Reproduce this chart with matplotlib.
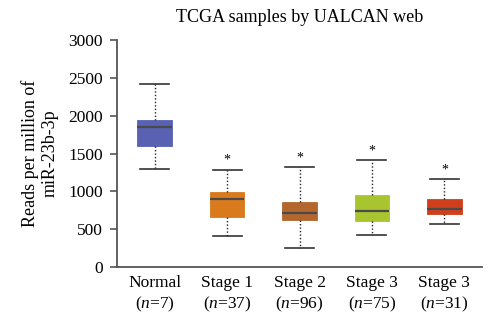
import matplotlib.pyplot as plt

plt.rcParams['font.family'] = ['Liberation Serif', 'DejaVu Serif']
plt.rcParams['mathtext.fontset'] = 'custom'
plt.rcParams['mathtext.it'] = 'Liberation Serif:italic'
plt.rcParams['mathtext.rm'] = 'Liberation Serif'

# group labels and box statistics (reads per million)
groups = ['Normal', 'Stage 1', 'Stage 2', 'Stage 3', 'Stage 3']
counts = [7, 37, 96, 75, 31]
whislo = [1295, 410, 251, 427, 568]
q1 = [1598, 665, 617, 615, 700]
med = [1850, 902, 717, 740, 770]
q3 = [1942, 995, 859, 955, 902]
whishi = [2418, 1285, 1317, 1413, 1158]
starred = [False, True, True, True, True]
colors = ['#5961b3', '#d97b1c', '#b3672f', '#a8c530', '#d03f1b']

stats = []
for i in range(len(groups)):
    stats.append(dict(whislo=whislo[i], q1=q1[i], med=med[i], q3=q3[i],
                      whishi=whishi[i], fliers=[]))

fig = plt.figure(figsize=(5, 3.31), dpi=100)
ax = fig.add_axes([0.234, 0.193, 0.73, 0.686])

bp = ax.bxp(stats, positions=range(len(groups)), widths=0.48, patch_artist=True,
            showfliers=False,
            boxprops=dict(linewidth=0.6),
            medianprops=dict(color='#4a4a4a', linewidth=1.6),
            whiskerprops=dict(color='#222222', linestyle=(0, (1, 1.5)), linewidth=1.0),
            capprops=dict(color='#333333', linewidth=1.2))
for patch, c in zip(bp['boxes'], colors):
    patch.set_facecolor(c)
    patch.set_edgecolor(c)
for cap in bp['caps']:
    x0, x1 = cap.get_xdata()
    mid = (x0 + x1) / 2
    cap.set_xdata([mid - 0.2, mid + 0.2])

for i, s in enumerate(starred):
    if s:
        ax.text(i, whishi[i] + 40, '*', ha='center', va='bottom', fontsize=10)

ax.set_xlim(-0.52, 4.52)
ax.set_ylim(0, 3000)
ax.set_yticks(range(0, 3001, 500))
ax.set_xticks(range(len(groups)))
ax.set_xticklabels([f'{g}\n($n$={n})' for g, n in zip(groups, counts)],
                   linespacing=1.25)
ax.tick_params(axis='x', length=0, pad=6, labelsize=12.5)
ax.tick_params(axis='y', length=5, width=1.2, color='#555555', labelsize=12.5,
               pad=5)
for side in ['top', 'right']:
    ax.spines[side].set_visible(False)
for side in ['left', 'bottom']:
    ax.spines[side].set_color('#555555')
    ax.spines[side].set_linewidth(1.3)

ax.set_ylabel('Reads per million of\nmiR-23b-3p', fontsize=13, labelpad=7)
ax.set_title('TCGA samples by UALCAN web', fontsize=13, pad=13)

fig.savefig('out.png', dpi=100)
